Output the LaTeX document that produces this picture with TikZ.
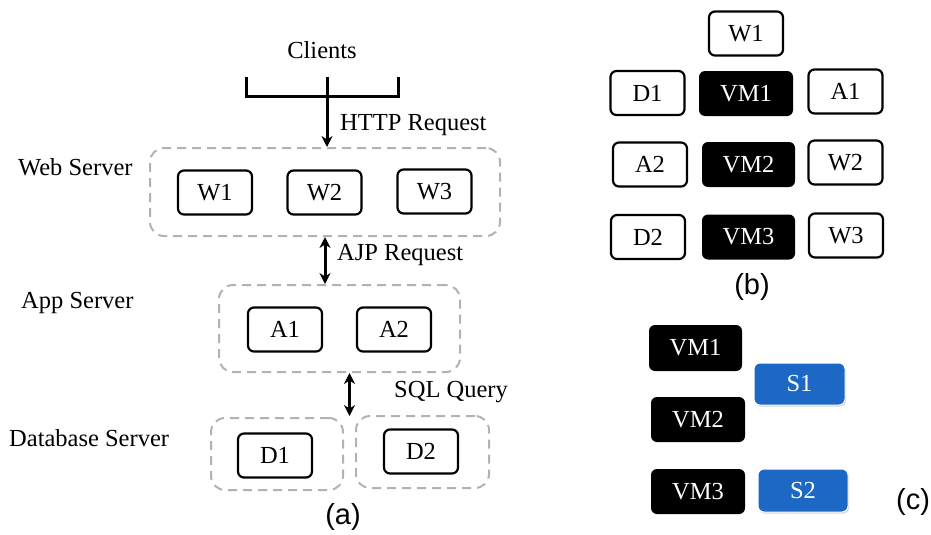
\documentclass[tikz,border=0pt]{standalone}
\usepackage{fontspec}
\setmainfont{Liberation Serif}
\newfontfamily\capfont{Liberation Sans}
\usetikzlibrary{calc,shadows,arrows.meta}
\definecolor{sblue}{RGB}{28,104,196}
\definecolor{dgray}{RGB}{178,178,178}
\begin{document}
\begin{tikzpicture}[x=1pt,y=-1pt,
  txt/.style={font=\fontsize{24.5}{28}\selectfont, inner sep=0pt},
  captext/.style={font=\capfont\fontsize{29}{33}\selectfont, inner sep=0pt},
  wbox/.style={draw=black, line width=2.2pt, rounded corners=6pt, fill=white,
    minimum width=74pt, minimum height=44pt, inner sep=0pt,
    font=\fontsize{24.5}{28}\selectfont},
  vmbox/.style={fill=black, rounded corners=6pt, text=white,
    minimum width=94pt, minimum height=45pt, inner sep=0pt,
    font=\fontsize{24.5}{28}\selectfont},
  sbox/.style={fill=sblue, draw=white, line width=1pt, rounded corners=6pt, text=white,
    minimum width=91pt, minimum height=43pt, inner sep=0pt,
    drop shadow={opacity=0.35, shadow xshift=1pt, shadow yshift=-1.5pt},
    font=\fontsize{24.5}{28}\selectfont},
  group/.style={draw=dgray, line width=2pt, dash pattern=on 9pt off 6pt,
    rounded corners=14pt, inner sep=0pt},
  conn/.style={line width=3pt, -{Stealth[length=11pt,width=11pt]}},
  dconn/.style={line width=3pt, {Stealth[length=11pt,width=11pt]}-{Stealth[length=11pt,width=11pt]}}
]
\useasboundingbox (0,0) rectangle (931,535);

% ---------- (a) ----------
\node[group, minimum width=350pt, minimum height=88pt] (web) at (325,192) {};
\node[group, minimum width=241pt, minimum height=87pt] (app) at (339.5,328.5) {};
\node[group, minimum width=132pt, minimum height=72pt] (d1box) at (277,454) {};
\node[group, minimum width=133pt, minimum height=72pt] (d2box) at (422.5,452) {};

\node[wbox] (w1) at (215,192.5) {W1};
\node[wbox] (w2) at (324.5,192.5) {W2};
\node[wbox] (w3) at (434.5,191.5) {W3};
\node[wbox] (a1) at (285,329.5) {A1};
\node[wbox] (a2) at (394,329.5) {A2};
\node[wbox] (d1) at (275,455.5) {D1};
\node[wbox] (d2) at (421,451.5) {D2};

\node[txt] (clients) at (322,50) {Clients};
\coordinate (bl) at (246,77);
\coordinate (br) at (398,77);
\coordinate (bm) at (327,77);
\draw[line width=3pt] (bl) -- ($(bl)+(0,19)$) -- ($(br)+(0,19)$) -- (br);
\draw[conn] (bm) -- (bm |- web.north);

\node[txt, anchor=west] (http) at (340,125) {HTTP Request};
\node[txt, anchor=west] (ajp) at (337,255) {AJP Request};
\node[txt, anchor=west] (sql) at (394,392) {SQL Query};

\coordinate (ajpx) at (325,0);
\draw[dconn] (ajpx |- web.south) -- (ajpx |- app.north);
\coordinate (dm) at ($(d1box.north east)!0.5!(d2box.north west)$);
\draw[dconn] (dm |- app.south) -- (dm);

\node[txt, anchor=west] (wslab) at (18,167) {Web Server};
\node[txt, anchor=west] (aslab) at (21,303) {App Server};
\node[txt, anchor=west] (dslab) at (9,438) {Database Server};

\node[captext] (capa) at (343,517) {(a)};

% ---------- (b) ----------
\node[wbox] (bw1) at (746,33.5) {W1};
\node[wbox] (bd1) at (647.5,93) {D1};
\node[vmbox] (bvm1) at (746,93.5) {VM1};
\node[wbox] (ba1) at (845.5,91.5) {A1};
\node[wbox] (ba2) at (650,164.5) {A2};
\node[vmbox, minimum width=93pt] (bvm2) at (748.5,164.5) {VM2};
\node[wbox] (bw2) at (845.5,162.5) {W2};
\node[wbox] (bd2) at (648,237) {D2};
\node[vmbox, minimum width=93pt] (bvm3) at (748.5,237) {VM3};
\node[wbox] (bw3) at (846,235.5) {W3};
\node[captext] (capb) at (752,287) {(b)};

% ---------- (c) ----------
\node[vmbox, minimum width=93pt, minimum height=46pt] (cvm1) at (695.5,348) {VM1};
\node[vmbox] (cvm2) at (698,419.5) {VM2};
\node[vmbox] (cvm3) at (698,491.5) {VM3};
\node[sbox, minimum height=42pt] (s1) at (799.5,384) {S1};
\node[sbox, minimum width=90pt] (s2) at (803,490.5) {S2};
\node[captext] (capc) at (913,502) {(c)};
\end{tikzpicture}
\end{document}
